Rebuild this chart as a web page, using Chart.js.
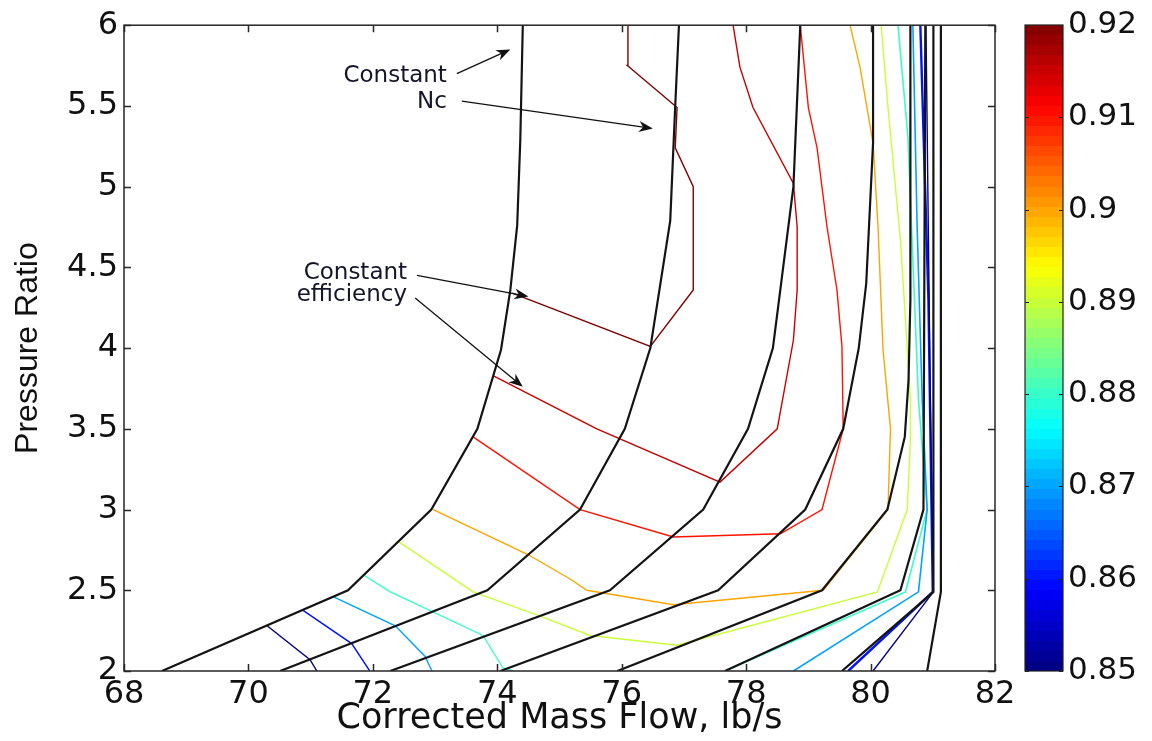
<!DOCTYPE html>
<html><head><meta charset="utf-8">
<script src="https://cdn.jsdelivr.net/npm/chart.js@4.4.1/dist/chart.umd.min.js"></script>
<style>
html,body{margin:0;padding:0;background:#fff;}
#wrap{position:relative;width:1152px;height:741px;background:#fff;overflow:hidden;}
#main{position:absolute;left:0;top:0;width:1152px;height:741px;}
#cbw{position:absolute;left:990px;top:0;width:162px;height:741px;}
</style></head><body>
<div id="wrap"><div id="main"><canvas id="c1"></canvas></div><div id="cbw"><canvas id="c2"></canvas></div></div>
<script>
// ---- axes / tick labels ----
const xTicks = [68, 70, 72, 74, 76, 78, 80, 82];
const xTickLabels = ['68', '70', '72', '74', '76', '78', '80', '82'];
const yTicks = [2, 2.5, 3, 3.5, 4, 4.5, 5, 5.5, 6];
const yTickLabels = ['2', '2.5', '3', '3.5', '4', '4.5', '5', '5.5', '6'];
const cbTicks = [0.85, 0.86, 0.87, 0.88, 0.89, 0.90, 0.91, 0.92];
const cbTickLabels = ['0.85', '0.86', '0.87', '0.88', '0.89', '0.9', '0.91', '0.92'];

// ---- constant corrected speed (Nc) lines: mass flow / pressure ratio ----
const nc1Flow = [68.61, 71.60, 72.94, 73.68, 74.06, 74.21, 74.32, 74.37, 74.41];
const nc1PR   = [2.00, 2.50, 3.00, 3.50, 3.99, 4.36, 4.76, 5.29, 6.00];
const nc2Flow = [70.51, 73.84, 75.33, 76.05, 76.46, 76.78, 76.86, 76.92];
const nc2PR   = [2.00, 2.50, 3.00, 3.50, 4.00, 4.79, 5.50, 6.00];
const nc3Flow = [72.28, 75.81, 77.31, 78.03, 78.43, 78.76, 78.87];
const nc3PR   = [2.00, 2.50, 3.00, 3.50, 4.00, 5.00, 6.00];
const nc4Flow = [74.05, 77.55, 78.95, 79.56, 79.81, 79.93, 80.04, 80.04];
const nc4PR   = [2.00, 2.50, 3.00, 3.50, 4.00, 4.40, 5.27, 6.00];
const nc5Flow = [75.93, 79.22, 80.27, 80.55, 80.61, 80.64, 80.64];
const nc5PR   = [2.00, 2.50, 3.00, 3.45, 3.80, 4.30, 6.00];
const nc6Flow = [77.66, 80.48, 80.85, 80.88];
const nc6PR   = [2.00, 2.50, 3.00, 6.00];
const nc7Flow = [79.54, 81.01, 81.01];
const nc7PR   = [2.00, 2.49, 6.00];
const nc8Flow = [80.91, 81.13, 81.13];
const nc8PR   = [2.00, 2.49, 6.00];

// ---- constant efficiency contours ----
const eff85aFlow = [70.30, 70.99, 71.10];
const eff85aPR   = [2.28, 2.07, 2.00];
const eff85bFlow = [80.04, 81.01, 80.96, 80.89];
const eff85bPR   = [2.00, 2.49, 3.68, 6.00];
const eff86aFlow = [70.86, 71.66, 71.95];
const eff86aPR   = [2.38, 2.17, 2.00];
const eff86bFlow = [79.64, 81.00, 80.98, 80.93, 80.80];
const eff86bPR   = [2.00, 2.49, 3.00, 4.30, 6.00];
const eff87aFlow = [71.36, 72.36, 72.84, 72.95];
const eff87aPR   = [2.46, 2.28, 2.09, 2.00];
const eff87bFlow = [78.76, 80.77, 80.91, 80.83, 80.75, 80.68];
const eff87bPR   = [2.00, 2.49, 3.00, 3.68, 4.73, 6.00];
const eff88aFlow = [71.87, 72.28, 73.77, 74.09, 74.25];
const eff88aPR   = [2.59, 2.49, 2.22, 2.02, 2.00];
const eff88bFlow = [77.66, 80.56, 80.91, 80.77, 80.60, 80.44];
const eff88bPR   = [2.00, 2.49, 3.00, 3.68, 5.31, 6.00];
const eff89Flow  = [72.42, 73.61, 74.69, 75.49, 76.89, 80.11, 80.59, 80.64, 80.64, 80.48, 80.28, 80.17];
const eff89PR    = [2.80, 2.49, 2.34, 2.22, 2.16, 2.49, 3.00, 3.43, 3.68, 4.67, 5.49, 6.00];
const eff90Flow  = [72.97, 74.50, 75.17, 75.44, 76.83, 79.24, 80.28, 80.32, 80.20, 80.12, 80.04, 79.83, 79.67];
const eff90PR    = [3.00, 2.72, 2.57, 2.50, 2.41, 2.50, 3.00, 3.50, 3.99, 4.75, 5.27, 5.74, 6.00];
const eff91Flow  = [73.61, 75.33, 76.83, 78.55, 79.22, 79.56, 79.54, 79.46, 79.30, 79.14, 79.00, 78.87];
const eff91PR    = [3.45, 3.00, 2.83, 2.85, 3.00, 3.50, 4.01, 4.36, 4.75, 5.24, 5.49, 6.00];
const eff915Flow = [73.93, 75.60, 77.58, 78.50, 78.76, 78.82, 78.82, 78.76, 78.11, 77.90, 77.79];
const eff915PR   = [3.83, 3.50, 3.17, 3.50, 4.05, 4.36, 4.75, 5.02, 5.49, 5.74, 6.00];
const eff92Flow  = [74.24, 76.46, 77.15, 77.15, 76.86, 76.89, 76.09, 76.10];
const eff92PR    = [4.34, 4.01, 4.36, 5.00, 5.24, 5.49, 5.75, 6.00];

// ---- annotation text & arrows (in data units) ----
const annText  = ['Constant', 'Nc', 'Constant', 'efficiency'];
const annTextX = [73.19, 73.19, 72.55, 72.55];
const annTextY = [5.65, 5.49, 4.43, 4.29];
const arrowFromX = [73.35, 73.43, 72.71, 72.68];
const arrowFromY = [5.70, 5.53, 4.45, 4.31];
const arrowToX   = [74.21, 76.50, 74.50, 74.41];
const arrowToY   = [5.85, 5.36, 4.32, 3.76];

// ---- helpers ----
const CMIN = 0.85, CMAX = 0.92;
function clamp(v){ return Math.max(0, Math.min(1, v)); }
function jet(t){
  const r = clamp(1.5 - Math.abs(4*t - 3));
  const g = clamp(1.5 - Math.abs(4*t - 2));
  const b = clamp(1.5 - Math.abs(4*t - 1));
  return 'rgb(' + Math.round(r*255) + ',' + Math.round(g*255) + ',' + Math.round(b*255) + ')';
}
function effColor(level){ return jet((level - CMIN) / (CMAX - CMIN)); }
function pts(xs, ys){ return xs.map((v, i) => ({x: v, y: ys[i]})); }

const speedLines = [
  [nc1Flow, nc1PR], [nc2Flow, nc2PR], [nc3Flow, nc3PR], [nc4Flow, nc4PR],
  [nc5Flow, nc5PR], [nc6Flow, nc6PR], [nc7Flow, nc7PR], [nc8Flow, nc8PR]
];
const effLines = [
  [0.85, eff85aFlow, eff85aPR, 1.4], [0.85, eff85bFlow, eff85bPR, 1.4],
  [0.86, eff86aFlow, eff86aPR, 1.4], [0.86, eff86bFlow, eff86bPR, 2.4],
  [0.87, eff87aFlow, eff87aPR, 1.4], [0.87, eff87bFlow, eff87bPR, 1.6],
  [0.88, eff88aFlow, eff88aPR, 1.4], [0.88, eff88bFlow, eff88bPR, 1.6],
  [0.89, eff89Flow, eff89PR, 1.4], [0.90, eff90Flow, eff90PR, 1.4],
  [0.91, eff91Flow, eff91PR, 1.4], [0.915, eff915Flow, eff915PR, 1.4],
  [0.92, eff92Flow, eff92PR, 1.4]
];

const datasets = [];
speedLines.forEach((s, i) => datasets.push({
  label: 'Nc ' + (i+1), data: pts(s[0], s[1]), showLine: true,
  borderColor: '#141414', borderWidth: 2.2, pointRadius: 0, tension: 0, fill: false
}));
effLines.forEach((e) => datasets.push({
  label: 'eff ' + e[0], data: pts(e[1], e[2]), showLine: true,
  borderColor: effColor(e[0]), borderWidth: e[3], pointRadius: 0, tension: 0, fill: false
}));

const FONT = '"DejaVu Sans", sans-serif';

const framePlugin = {
  id: 'frame',
  afterDraw(chart){
    const {ctx, chartArea: a, scales: {x, y}} = chart;
    ctx.save();
    ctx.strokeStyle = '#262626';
    ctx.lineWidth = 1.5;
    ctx.strokeRect(a.left, a.top, a.right - a.left, a.bottom - a.top);
    ctx.beginPath();
    xTicks.forEach(v => {
      const p = Math.round(x.getPixelForValue(v)) + 0.5;
      ctx.moveTo(p, a.bottom); ctx.lineTo(p, a.bottom - 7);
      ctx.moveTo(p, a.top); ctx.lineTo(p, a.top + 7);
    });
    yTicks.forEach(v => {
      const p = Math.round(y.getPixelForValue(v)) + 0.5;
      ctx.moveTo(a.left, p); ctx.lineTo(a.left + 7, p);
      ctx.moveTo(a.right, p); ctx.lineTo(a.right - 7, p);
    });
    ctx.stroke();

    // annotation text
    ctx.fillStyle = '#14142a';
    ctx.font = '23px ' + FONT;
    ctx.textAlign = 'right';
    ctx.textBaseline = 'alphabetic';
    annText.forEach((t, i) => ctx.fillText(t, x.getPixelForValue(annTextX[i]), y.getPixelForValue(annTextY[i])));

    // arrows
    ctx.strokeStyle = '#111'; ctx.fillStyle = '#111'; ctx.lineWidth = 1.3;
    arrowFromX.forEach((fx, i) => {
      const x0 = x.getPixelForValue(fx), y0 = y.getPixelForValue(arrowFromY[i]);
      const x1 = x.getPixelForValue(arrowToX[i]), y1 = y.getPixelForValue(arrowToY[i]);
      const ang = Math.atan2(y1 - y0, x1 - x0);
      const L = 14, W = 5.5;
      ctx.beginPath(); ctx.moveTo(x0, y0);
      ctx.lineTo(x1 - Math.cos(ang) * 6, y1 - Math.sin(ang) * 6); ctx.stroke();
      const bx = x1 - Math.cos(ang) * L, by = y1 - Math.sin(ang) * L;
      const nx = -Math.sin(ang), ny = Math.cos(ang);
      const mx = x1 - Math.cos(ang) * L * 0.7, my = y1 - Math.sin(ang) * L * 0.7;
      ctx.beginPath();
      ctx.moveTo(x1, y1);
      ctx.lineTo(bx + nx * W, by + ny * W);
      ctx.lineTo(mx, my);
      ctx.lineTo(bx - nx * W, by - ny * W);
      ctx.closePath(); ctx.fill();
    });
    ctx.restore();
  }
};

new Chart(document.getElementById('c1'), {
  type: 'scatter',
  data: { datasets },
  options: {
    responsive: true, maintainAspectRatio: false, animation: false, devicePixelRatio: 1,
    layout: { padding: { left: 0, top: 25, right: 157, bottom: 0 } },
    plugins: { legend: { display: false }, tooltip: { enabled: false } },
    scales: {
      x: {
        type: 'linear', min: 68, max: 82,
        afterBuildTicks: s => { s.ticks = xTicks.map(v => ({value: v})); },
        afterFit: s => { s.height = 70; },
        ticks: { callback: (v, i) => xTickLabels[i], color: '#111', font: { family: FONT, size: 32 }, padding: 4, maxRotation: 0, autoSkip: false },
        grid: { display: false, drawTicks: false },
        border: { display: false },
        title: { display: true, text: 'Corrected Mass Flow, lb/s', color: '#111', font: { family: FONT, size: 35 }, padding: { top: 0, bottom: 1 } }
      },
      y: {
        type: 'linear', min: 2, max: 6,
        afterBuildTicks: s => { s.ticks = yTicks.map(v => ({value: v})); },
        afterFit: s => { s.width = 124; },
        ticks: { callback: (v, i) => yTickLabels[i], color: '#111', font: { family: FONT, size: 32 }, padding: 6, autoSkip: false },
        grid: { display: false, drawTicks: false },
        border: { display: false },
        title: { display: true, text: 'Pressure Ratio', color: '#111', font: { family: '"Liberation Sans", Arial, sans-serif', size: 32 }, padding: { top: 9, bottom: 0 } }
      }
    }
  },
  plugins: [framePlugin]
});

// ---- colorbar ----
const cbPlugin = {
  id: 'cbframe',
  afterDraw(chart){
    const {ctx, chartArea: a, scales: {y}} = chart;
    ctx.save();
    ctx.strokeStyle = '#222'; ctx.lineWidth = 1.2;
    ctx.strokeRect(a.left, a.top, a.right - a.left, a.bottom - a.top);
    ctx.beginPath();
    cbTicks.forEach(v => {
      const p = Math.round(y.getPixelForValue(v)) + 0.5;
      ctx.moveTo(a.left, p); ctx.lineTo(a.left + 4, p);
      ctx.moveTo(a.right, p); ctx.lineTo(a.right - 4, p);
    });
    ctx.stroke();
    ctx.restore();
  }
};

new Chart(document.getElementById('c2'), {
  type: 'bar',
  data: {
    labels: [''],
    datasets: [{
      data: [[CMIN, CMAX]],
      barPercentage: 1, categoryPercentage: 1, borderWidth: 0,
      backgroundColor: (c) => {
        const ch = c.chart, a = ch.chartArea;
        if (!a) return '#888';
        const g = ch.ctx.createLinearGradient(0, a.bottom, 0, a.top);
        const N = 64;
        for (let i = 0; i < N; i++) {
          const col = jet((i + 0.5) / N);
          g.addColorStop(i / N, col);
          g.addColorStop((i + 1) / N - 1e-6, col);
        }
        return g;
      }
    }]
  },
  options: {
    responsive: true, maintainAspectRatio: false, animation: false, devicePixelRatio: 1,
    layout: { padding: { left: 35, top: 25, right: 0, bottom: 70 } },
    plugins: { legend: { display: false }, tooltip: { enabled: false } },
    scales: {
      x: { display: false },
      y: {
        position: 'right', min: CMIN, max: CMAX,
        afterBuildTicks: s => { s.ticks = cbTicks.map(v => ({value: v})); },
        afterFit: s => { s.width = 89; },
        ticks: { callback: (v, i) => cbTickLabels[i], color: '#111', font: { family: FONT, size: 31 }, padding: 5, autoSkip: false },
        grid: { display: false, drawTicks: false },
        border: { display: false }
      }
    }
  },
  plugins: [cbPlugin]
});
</script>
</body></html>
